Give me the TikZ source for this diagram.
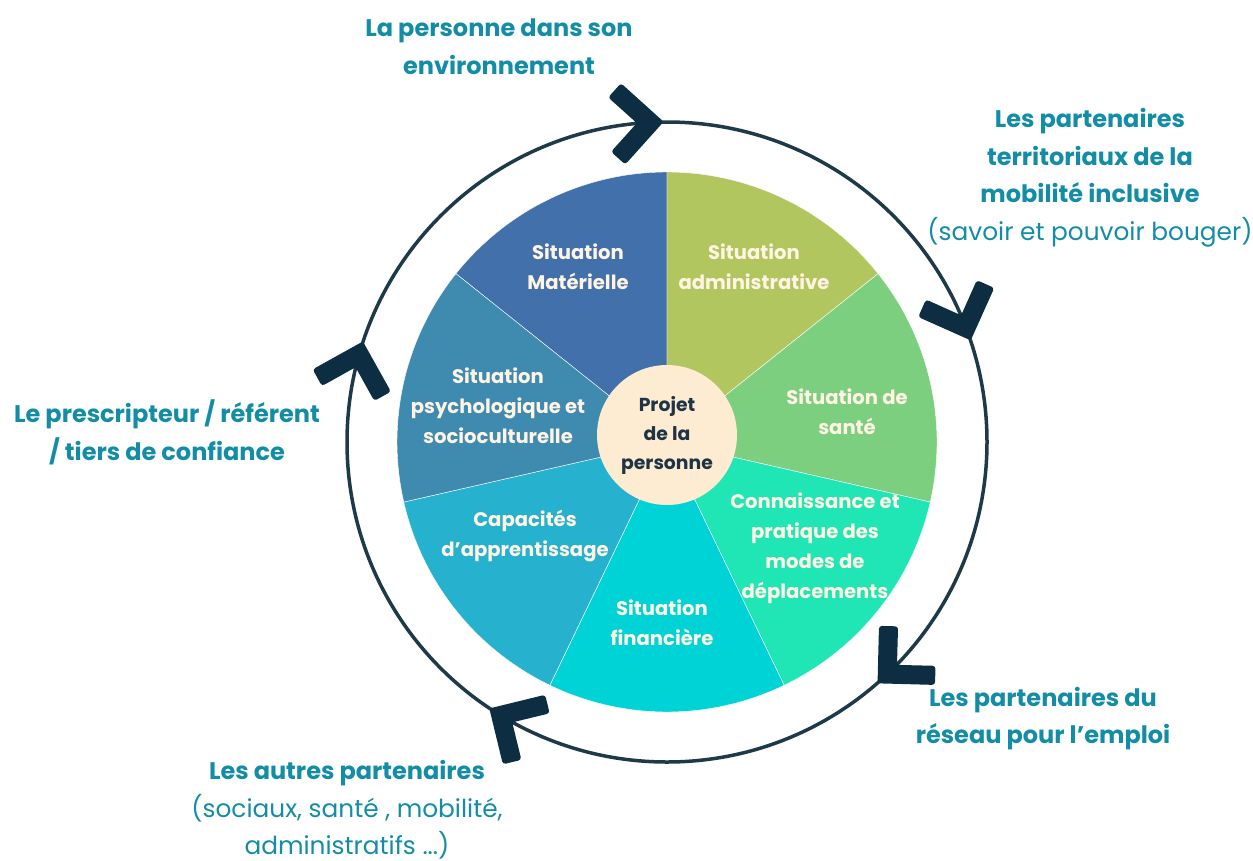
\documentclass[tikz,border=0pt]{standalone}
\usepackage{fontspec}
\setmainfont{Poppins}
\usetikzlibrary{calc}
\definecolor{tealtxt}{HTML}{138DA5}
\definecolor{navy}{HTML}{0D2D42}
\definecolor{ringc}{HTML}{1E3A48}
\definecolor{cream}{HTML}{FFF4E4}
\definecolor{centerfill}{HTML}{FDEBD2}
\definecolor{centertxt}{HTML}{1E3444}
\definecolor{cMat}{HTML}{4270AA}
\definecolor{cAdm}{HTML}{B2C660}
\definecolor{cSan}{HTML}{7DCF80}
\definecolor{cCon}{HTML}{20E6B5}
\definecolor{cFin}{HTML}{00D3D6}
\definecolor{cCap}{HTML}{26B2CE}
\definecolor{cPsy}{HTML}{3F8BB0}
\newcommand{\regtxt}{\mdseries\fontsize{24.8}{37.5}\selectfont}
\tikzset{
  slicetext/.style={text=cream, align=center, font=\bfseries\fontsize{19.6}{30}\selectfont, inner sep=0pt},
  outerbold/.style={text=tealtxt, align=center, font=\bfseries\fontsize{24}{37.5}\selectfont, inner sep=0pt},
  ringline/.style={draw=ringc, line width=3.5pt},
  chevron/.style={fill=navy, rounded corners=3pt}
}
\begin{document}
\begin{tikzpicture}[x=1pt,y=-1pt]
\useasboundingbox (0,0) rectangle (1253,860);
\coordinate (C) at (667,442);
% outer ring
\draw[ringline] (C) circle[radius=320];
% slices
\foreach \a/\col in {90/cMat, 38.5714/cAdm, -12.8571/cSan, -64.2857/cCon, -115.7143/cFin, -167.1429/cCap, 141.4286/cPsy}{
  \fill[\col, draw=white, line width=0.4pt] (C) -- ($(C)+(-\a:270)$) arc[start angle=-\a, end angle=-\a-51.4286, radius=270] -- cycle;
}
% center
\node[circle, fill=centerfill, minimum size=140pt, inner sep=0pt] (ctr) at (667,435) {};
\node[text=centertxt, align=center, font=\bfseries\fontsize{18.8}{29}\selectfont, inner sep=0pt] (ctrtext) at (667,435) {Projet\\de la\\personne};
% chevrons
\foreach \p [count=\i] in {93, 20.9, -46.5, -121.3, 164.1}{
  \coordinate (V\i) at ($(C)+(-\p:320)$);
  \begin{scope}[shift={(V\i)}, rotate=\p-90]
    \fill[chevron] (13.4,0) -- (-27.2,40.7) -- (-40.7,27.2) -- (-13.4,0) -- (-40.7,-27.2) -- (-27.2,-40.7) -- cycle;
  \end{scope}
}
% slice labels
\node[slicetext] (tMat) at (578,267) {Situation\\Matérielle};
\node[slicetext] (tAdm) at (754,267) {Situation\\administrative};
\node[slicetext] (tSan) at (847,412) {Situation de\\santé};
\node[slicetext] (tCon) at (815,548) {Connaissance et\\pratique des\\modes de\\déplacements};
\node[slicetext] (tFin) at (662,623) {Situation\\financière};
\node[slicetext] (tCap) at (525,536) {Capacités\\d’apprentissage};
\node[slicetext] (tPsy) at (498,406) {Situation\\psychologique et\\socioculturelle};
% outer labels
\node[outerbold] (lTop) at (499,46.5) {La personne dans son\\environnement};
\node[outerbold] (lTR) at (1090,177.5) {Les partenaires\\territoriaux de la\\mobilité inclusive\\\regtxt(savoir et pouvoir bouger)};
\node[outerbold] (lL) at (167,432.5) {Le prescripteur / référent\\/ tiers de confiance};
\node[outerbold] (lBL) at (347,810) {Les autres partenaires\\\regtxt(sociaux, santé , mobilité,\\\regtxt administratifs ...)};
\node[outerbold] (lBR) at (1043,718.5) {Les partenaires du\\réseau pour l’emploi};
\end{tikzpicture}
\end{document}
